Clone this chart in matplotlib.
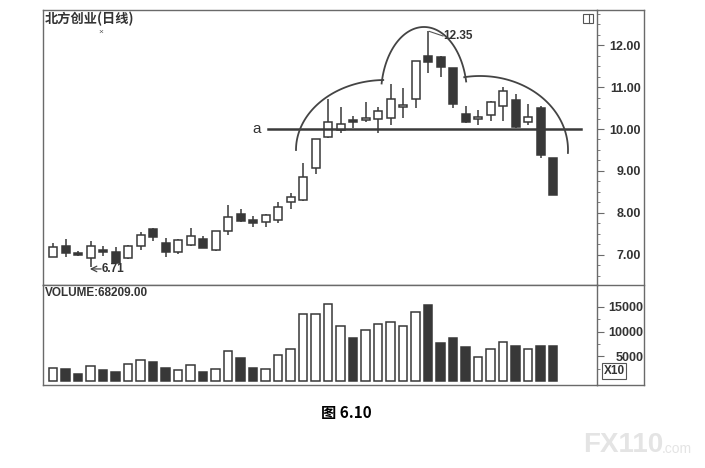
import numpy as np
import matplotlib
matplotlib.use("Agg")
import matplotlib.pyplot as plt
from matplotlib.lines import Line2D
from matplotlib.patches import Rectangle

plt.rcParams['font.family'] = ['Liberation Sans', 'DejaVu Sans', 'Noto Sans CJK SC']

# daily candles
opens = [6.95, 7.21, 7.05, 6.91, 7.11, 7.06, 6.91, 7.21, 7.62, 7.29,
         7.06, 7.22, 7.38, 7.11, 7.57, 7.97, 7.83, 7.79, 7.83, 8.25,
         8.31, 9.06, 9.80, 9.98, 10.21, 10.21, 10.23, 10.26, 10.53, 10.71,
         11.75, 11.73, 11.45, 10.36, 10.23, 10.33, 10.56, 10.69, 10.17, 10.49,
         9.30]
closes = [7.18, 7.05, 6.99, 7.21, 7.06, 6.81, 7.21, 7.47, 7.42, 7.07,
          7.35, 7.45, 7.17, 7.56, 7.91, 7.80, 7.75, 7.94, 8.15, 8.37,
          8.86, 9.75, 10.17, 10.13, 10.17, 10.27, 10.43, 10.72, 10.57, 11.62,
          11.61, 11.49, 10.60, 10.16, 10.29, 10.65, 10.91, 10.04, 10.29, 9.38,
          8.42]
highs = [7.27, 7.37, 7.08, 7.32, 7.20, 7.18, 7.23, 7.53, 7.63, 7.41,
         7.38, 7.63, 7.45, 7.57, 8.19, 8.08, 7.92, 7.96, 8.25, 8.48,
         9.20, 9.76, 10.72, 10.53, 10.32, 10.64, 10.52, 11.07, 10.99, 11.63,
         12.35, 11.74, 11.46, 10.55, 10.45, 10.66, 11.01, 10.84, 10.59, 10.56,
         9.31]
lows = [6.94, 6.95, 6.97, 6.71, 6.97, 6.80, 6.90, 7.11, 7.33, 6.95,
        7.02, 7.20, 7.15, 7.10, 7.47, 7.78, 7.67, 7.65, 7.76, 8.09,
        8.28, 8.93, 9.78, 9.91, 10.02, 10.17, 9.90, 10.10, 10.27, 10.49,
        11.33, 11.25, 10.49, 10.15, 10.10, 10.19, 10.19, 10.02, 10.10, 9.30,
        8.42]
volumes = [2700, 2370, 1360, 3100, 2170, 1760, 3380, 4190, 3790, 2570,
           2230, 3180, 1820, 2430, 6070, 4720, 2630, 2490, 5320, 6420,
           13620, 13620, 15530, 11200, 8640, 10390, 11600, 11880, 11070, 13900,
           15380, 7630, 8640, 6820, 4860, 6540, 7830, 7150, 6420, 7020,
           7020]
price_ticks = [7.0, 8.0, 9.0, 10.0, 11.0, 12.0]
volume_ticks = [5000, 10000, 15000]
neckline = 10.0

W, H = 705, 468
fig = plt.figure(figsize=(W / 100, H / 100), dpi=100)
fig.patch.set_facecolor('white')


def fx(px):
    return px / W


def fy(py):
    return 1 - py / H


dark = '#383838'
frame = '#6a6a6a'

ax = fig.add_axes([fx(43), fy(285), fx(597 - 43), (285 - 10) / H])
axv = fig.add_axes([fx(43), fy(385), fx(597 - 43), (385 - 285) / H])

n = len(opens)
xs = np.arange(n)
o = np.array(opens)
c = np.array(closes)
down = c < o
face = np.where(down, dark, 'white')

ax.vlines(xs, lows, highs, color=dark, lw=1.1, zorder=2)
body = np.maximum(np.abs(c - o), 0.025)
ax.bar(xs, body, bottom=np.minimum(o, c), width=0.64, color=face,
       edgecolor=dark, linewidth=1.1, zorder=3)

ax.set_xlim(-0.8, 43.52)
ax.set_ylim(6.277, 12.84)

# neckline "a"
ax.plot([17.2, 42.2], [neckline, neckline], color='#3a3a3a', lw=1.8, zorder=4)
ax.text(16.3, neckline, 'a', fontsize=11, ha='center', va='center', color='#333333')


# head and shoulders outline (pixel ellipses converted to data units)
def to_data(px, py):
    return (np.asarray(px) - 53) / 12.5, 10 + (129 - np.asarray(py)) / 41.9


t = np.linspace(np.pi, np.pi / 2 + 0.02, 80)
lx, ly = to_data(385 + 89 * np.cos(t), 150 - 70 * np.sin(t))
ax.plot(lx, ly, color='#444444', lw=1.3, zorder=4)
t = np.linspace(np.pi - 0.17, 0.2, 120)
hx, hy = to_data(424 + 43 * np.cos(t), 95 - 68 * np.sin(t))
ax.plot(hx, hy, color='#444444', lw=1.3, zorder=4)
t = np.linspace(np.pi / 2 + 0.18, -0.04, 100)
rx, ry = to_data(480 + 88 * np.cos(t), 150 - 74 * np.sin(t))
ax.plot(rx, ry, color='#444444', lw=1.3, zorder=4)

# low / high labels
ax.annotate('', xy=(2.95, 6.66), xytext=(3.85, 6.66),
            arrowprops=dict(arrowstyle='->', color='#444444', lw=0.9,
                            shrinkA=0, shrinkB=0))
ax.text(3.85, 6.66, '6.71', fontsize=8.5, fontweight='bold',
        ha='left', va='center', color='#333333')
ax.plot([30.1, 31.2], [12.33, 12.22], color='#555555', lw=0.8)
ax.text(31.2, 12.22, '12.35', fontsize=8.5, fontweight='bold', ha='left',
        va='center', color='#333333')

# price axis on the right
ax.yaxis.tick_right()
ax.set_yticks(price_ticks)
ax.set_yticklabels(['%.2f' % v for v in price_ticks])
ax.set_yticks(np.arange(6.5, 12.8, 0.25), minor=True)
ax.tick_params(axis='y', which='major', length=5, width=0.8, color=frame,
               labelsize=9, pad=26.5, labelcolor='#333333')
ax.tick_params(axis='y', which='minor', length=2.5, width=0.6, color=frame)
for lab in ax.get_yticklabels():
    lab.set_horizontalalignment('right')
    lab.set_fontweight('bold')
ax.set_xticks([])
for s in ax.spines.values():
    s.set_color(frame)
    s.set_linewidth(1.0)

# volume panel
axv.bar(xs, volumes, width=0.66, color=face, edgecolor=dark, linewidth=1.1)
axv.set_xlim(-0.8, 43.52)
axv.set_ylim(-810, 19430)
axv.yaxis.tick_right()
axv.set_yticks(volume_ticks)
axv.set_yticklabels([str(v) for v in volume_ticks])
axv.set_yticks([2500, 7500, 12500], minor=True)
axv.tick_params(axis='y', which='major', length=5, width=0.8, color=frame,
                labelsize=9, pad=28.5, labelcolor='#333333')
axv.tick_params(axis='y', which='minor', length=2.5, width=0.6, color=frame)
for lab in axv.get_yticklabels():
    lab.set_horizontalalignment('right')
    lab.set_fontweight('bold')
axv.set_xticks([])
for s in axv.spines.values():
    s.set_color(frame)
    s.set_linewidth(1.0)
axv.text(0.004, 0.92, 'VOLUME:68209.00', transform=axv.transAxes, fontsize=8.5,
         fontweight='bold', ha='left', va='center', color='#333333')

# outer frame reaching over the right-hand scale column
for (x0, y0, x1, y1) in [(597, 10, 644, 10), (597, 285, 644, 285),
                         (597, 385, 644, 385), (644, 10, 644, 385)]:
    fig.add_artist(Line2D([fx(x0), fx(x1)], [fy(y0), fy(y1)], color=frame, lw=1.0))

fig.text(fx(614), fy(371), 'X10', fontsize=8.5, fontweight='bold', ha='center',
         va='center', color='#333333',
         bbox=dict(boxstyle='square,pad=0.15', fc='white', ec='#555555', lw=0.8))

# little window icon top right
fig.add_artist(Rectangle((fx(583), fy(23)), fx(10), 9 / H, fill=False,
                         ec='#555555', lw=0.8))
fig.add_artist(Line2D([fx(589), fx(589)], [fy(23), fy(14)], color='#555555', lw=0.8))

fig.text(fx(45), fy(19), '北方创业(日线)', fontsize=9.5, fontweight='bold',
         family=['Noto Sans CJK SC', 'DejaVu Sans'], ha='left', va='center',
         color='#333333')
fig.text(fx(101), fy(32), '×', fontsize=6, ha='center', va='center', color='#555555')

fig.text(fx(346), fy(413), '图 6.10', fontsize=11, fontweight='bold',
         family=['Noto Sans CJK SC', 'DejaVu Sans'], ha='center', va='center')

fig.text(fx(583), fy(445), 'FX110', fontsize=20, fontweight='bold', ha='left',
         va='center', color='#e4e4e4')
fig.text(fx(662), fy(449), '.com', fontsize=10, ha='left', va='center',
         color='#e4e4e4')

fig.savefig('out.png', dpi=100)
